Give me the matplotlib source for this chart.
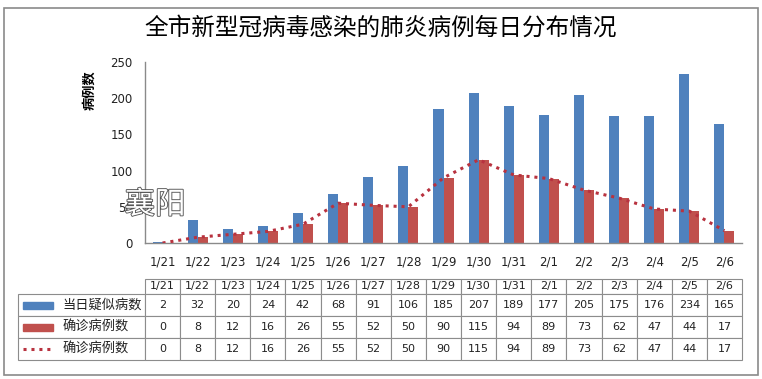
import matplotlib
matplotlib.use('Agg')
import matplotlib.pyplot as plt
import matplotlib.patheffects as pe
from matplotlib.patches import Rectangle

plt.rcParams['font.family'] = ['DejaVu Sans', 'Noto Sans CJK SC']

# data
dates = ['1/21', '1/22', '1/23', '1/24', '1/25', '1/26', '1/27', '1/28', '1/29',
         '1/30', '1/31', '2/1', '2/2', '2/3', '2/4', '2/5', '2/6']
suspected = [2, 32, 20, 24, 42, 68, 91, 106, 185, 207, 189, 177, 205, 175, 176, 234, 165]
confirmed = [0, 8, 12, 16, 26, 55, 52, 50, 90, 115, 94, 89, 73, 62, 47, 44, 17]
row_names = ['当日疑似病数', '确诊病例数', '确诊病例数']
title = '全市新型冠病毒感染的肺炎病例每日分布情况'

blue = '#4F81BD'
red = '#C0504D'
dot_red = '#B8323F'
grid_gray = '#8c8c8c'

W, H = 762, 379
fig = plt.figure(figsize=(W / 100, H / 100), dpi=100)
# axes placed in pixel terms
ax_l, ax_r, ax_t, ax_b = 145, 742, 62, 243
ax = fig.add_axes([ax_l / W, 1 - ax_b / H, (ax_r - ax_l) / W, (ax_b - ax_t) / H])

x = list(range(len(dates)))
w = 0.285
ax.bar([i - w / 2 for i in x], suspected, width=w, color=blue, zorder=2)
ax.bar([i + w / 2 for i in x], confirmed, width=w, color=red, zorder=2)
ax.plot(x, confirmed, ls=(0, (1, 1.6)), lw=2.2, color=dot_red, zorder=3)

ax.set_xlim(-0.5, len(dates) - 0.5)
ax.set_ylim(0, 250)
ax.set_yticks([0, 50, 100, 150, 200, 250])
ax.set_xticks(x, dates)
ax.tick_params(axis='y', length=0, pad=9, labelsize=8.5, colors='#222222')
ax.tick_params(axis='x', length=0, pad=9, labelsize=8.5, colors='#222222')
for s in ['top', 'right']:
    ax.spines[s].set_visible(False)
for s in ['left', 'bottom']:
    ax.spines[s].set_color('#8a8a8a')
    ax.spines[s].set_linewidth(1.0)

# data table below the chart (bbox covers the date columns only)
pw = ax_r - ax_l
ph = ax_b - ax_t
tab_l, tab_t, tab_b = 18, 279, 360
cell_text = [[str(v) for v in suspected],
             [str(v) for v in confirmed],
             [str(v) for v in confirmed]]
tbl = ax.table(cellText=cell_text, rowLabels=row_names, colLabels=dates,
               cellLoc='center', rowLoc='left',
               colWidths=[1.0 / len(dates)] * len(dates),
               bbox=[0, (ax_b - tab_b) / ph, 1, (tab_b - tab_t) / ph])
tbl._autoColumns = []  # keep the fixed width of the label column
tbl.auto_set_font_size(False)
tbl.set_fontsize(8)
for (r, c), cell in tbl.get_celld().items():
    cell.set_edgecolor(grid_gray)
    cell.set_linewidth(0.8)
    cell.set_height(15 if r == 0 else 22)
    cell.get_text().set_color('#222222')
    if c == -1:
        cell.set_width((ax_l - tab_l) / pw)
        cell.PAD = 0.35
        cell.get_text().set_fontsize(9.5)

# legend keys inside the row label cells
key_x0 = (23 - ax_l) / pw
key_w = 30 / pw
row_top = 294
for r in range(3):
    yc = (ax_b - (row_top + 22 * r + 11)) / ph
    if r < 2:
        ax.add_patch(Rectangle((key_x0, yc - 3.5 / ph), key_w, 7 / ph,
                               transform=ax.transAxes, clip_on=False,
                               color=[blue, red][r]))
    else:
        ax.plot([key_x0, key_x0 + key_w], [yc, yc], transform=ax.transAxes,
                clip_on=False, ls=(0, (1, 1.6)), lw=2.2, color=dot_red)

fig.text(0.5, 1 - 28 / H, title, fontsize=17, ha='center', va='center',
         family=['Noto Sans CJK SC'])
fig.text(89 / W, 1 - 90 / H, '病例数', rotation=90, fontsize=9.5,
         fontweight='bold', ha='center', va='center', family=['Noto Sans CJK SC'])

# watermark
fig.text(155 / W, 1 - 205 / H, '襄阳', fontsize=22, color='white',
         ha='center', va='center', family=['Noto Sans CJK SC'], zorder=10,
         path_effects=[pe.withStroke(linewidth=1.3, foreground='#555555')])

# outer frame
fig.patches.append(Rectangle((4 / W, 1 - 375 / H), 754 / W, 367 / H,
                             transform=fig.transFigure, fill=False,
                             edgecolor='#8a8a8a', lw=1.2))

fig.savefig('out.png', dpi=100)
